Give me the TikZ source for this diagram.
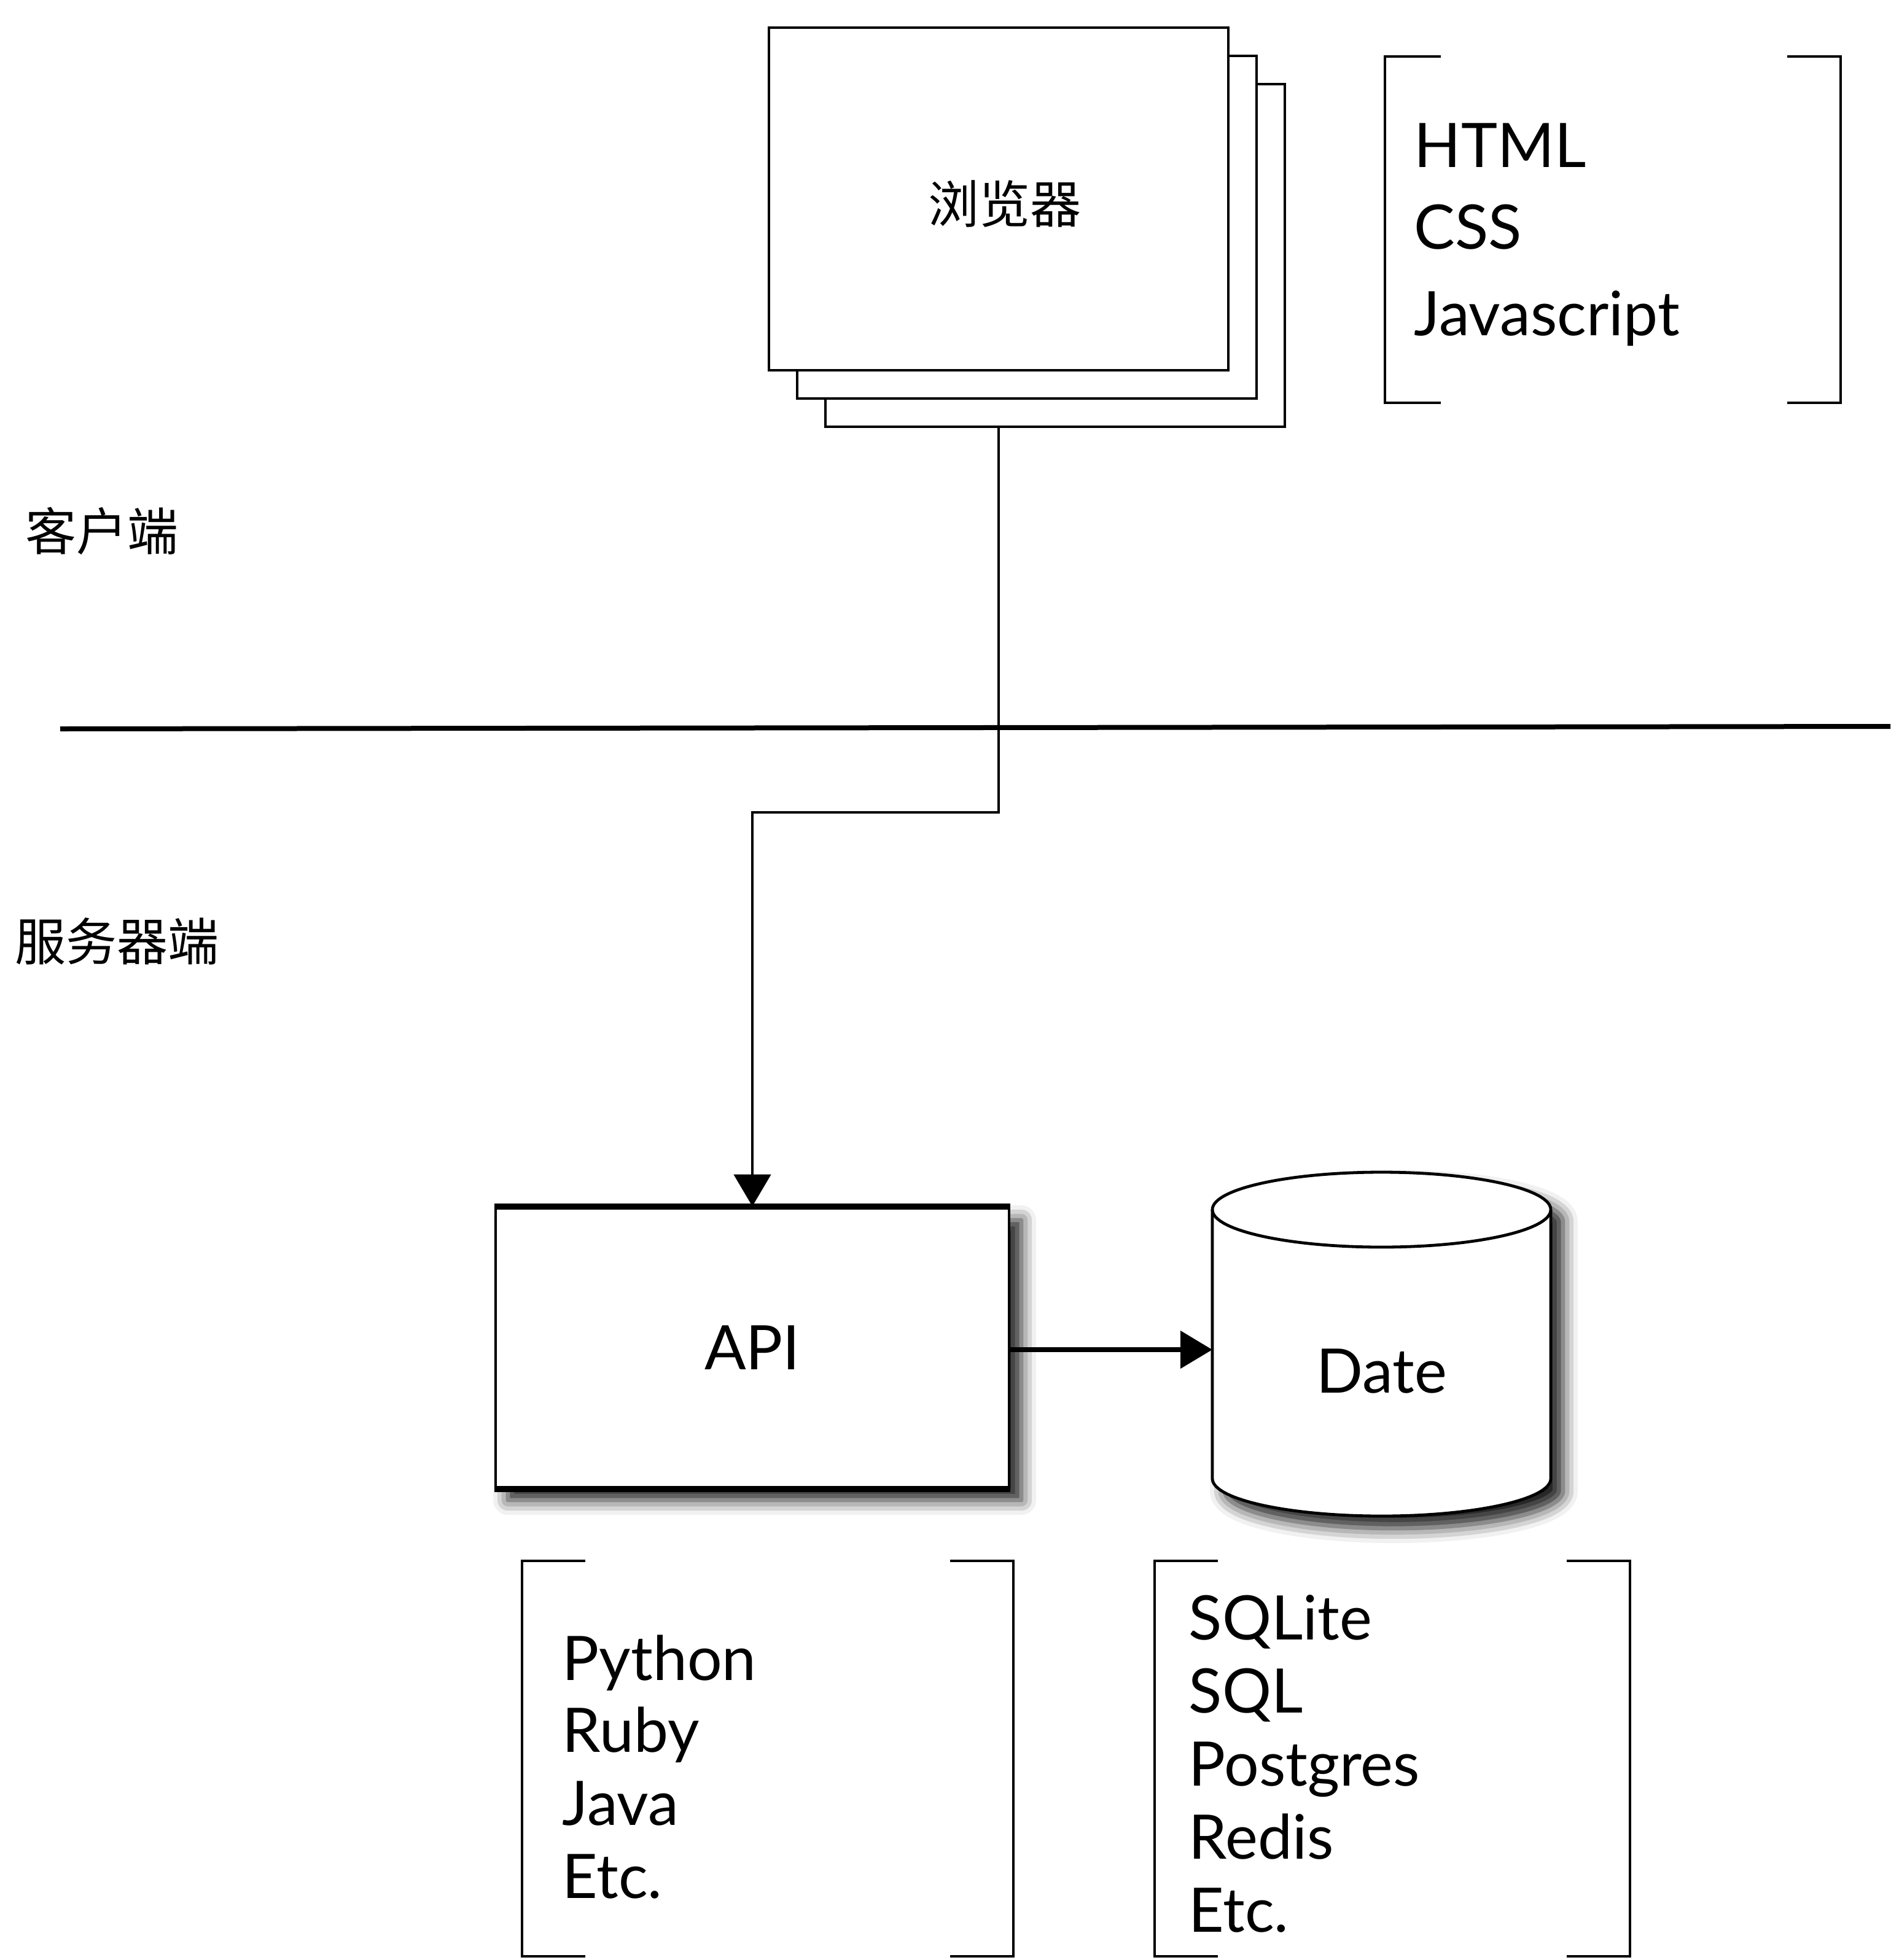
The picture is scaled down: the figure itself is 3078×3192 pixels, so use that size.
\documentclass[tikz,border=0pt]{standalone}
\usepackage{fontspec}
\setmainfont{Lato}
\newfontfamily\cjk{Noto Sans CJK SC}
\usetikzlibrary{arrows.meta,shadows.blur}
\begin{document}
\begin{tikzpicture}[x=0.25pt,y=-0.25pt,
  conn/.style={line width=1.2pt, -{Triangle[length=13pt,width=15pt]}},
  page/.style={draw, line width=1.2pt, fill=white, minimum width=187pt, minimum height=139.5pt, inner sep=0pt},
  lbl/.style={font=\fontsize{25pt}{30pt}\selectfont, anchor=base west, inner sep=0pt},
  cjklbl/.style={font=\cjk\fontsize{20.75pt}{25pt}\selectfont, inner sep=0pt},
  brk/.style={line width=1.2pt},
  dshadow/.style={blur shadow={shadow xshift=5pt, shadow yshift=-5pt, shadow blur radius=6pt, shadow opacity=90}}
]
\path[use as bounding box] (0,0) rectangle (3078,3192);

% browser pages
\node[page] (b3) at (1718,416) {};
\node[page] (b2) at (1672,370) {};
\node[page] (b1) at (1626,324) {};
\node[cjklbl] (btxt) at (1636,332) {浏览器};

% client-side bracket
\draw[brk] (2346,92) -| (2255,656) -- (2346,656);
\draw[brk] (2910,92) -| (2997,656) -- (2910,656);
\node[lbl] (html) at (2302,272) {HTML};
\node[lbl] (css) at (2302,405) {CSS};
\node[lbl] (js) at (2302,546) {Javascript};

% side labels and separator
\node[cjklbl, anchor=west] (client) at (41,865) {客户端};
\node[cjklbl, anchor=west] (server) at (24,1533) {服务器端};
\coordinate (sepL) at (98,1187);
\coordinate (sepR) at (3078,1183);
\draw[line width=2pt] (sepL) -- (sepR);

% API
\node[draw, line width=1.2pt, fill=white, minimum width=209pt, minimum height=114pt, dshadow,
      font=\fontsize{25pt}{30pt}\selectfont] (api) at (1225,2195) {API};
\draw[line width=2.5pt] (api.north west) -- (api.north east);
\draw[line width=2.5pt] (api.south west) -- (api.south east);

% connector browser -> API
\coordinate (jog) at (1400,1323);
\draw[conn] (b3.south -| b1.center) |- (jog) -| (api.north);

% connector API -> database
\coordinate (dbin) at (1974,2198);
\draw[line width=2pt, -{Triangle[length=13pt,width=15pt]}] (api.east |- dbin) -- (dbin);

% database cylinder
\path[dshadow, fill=white] (1974,1970) -- (1974,2408)
  arc[start angle=180, end angle=360, x radius=68.875pt, y radius=15.25pt]
  -- (2525,1970)
  arc[start angle=0, end angle=180, x radius=68.875pt, y radius=15.25pt] -- cycle;
\draw[line width=1.2pt] (1974,1970) -- (1974,2408)
  arc[start angle=180, end angle=360, x radius=68.875pt, y radius=15.25pt]
  -- (2525,1970);
\draw[line width=1.2pt] (2249.5,1970) ellipse [x radius=68.875pt, y radius=15.25pt];
\node[font=\fontsize{25pt}{30pt}\selectfont, inner sep=0pt] (date) at (2250,2233) {Date};

% server brackets
\draw[brk] (953,2542) -| (850,3186) -- (953,3186);
\draw[brk] (1547,2542) -| (1650,3186) -- (1547,3186);
\draw[brk] (1983,2542) -| (1880,3186) -- (1983,3186);
\draw[brk] (2551,2542) -| (2654,3186) -- (2551,3186);

\node[lbl] (py) at (915,2736) {Python};
\node[lbl] (rb) at (915,2853) {Ruby};
\node[lbl] (java) at (915,2972) {Java};
\node[lbl] (etc1) at (915,3091) {Etc.};

\node[lbl] (sqlite) at (1935,2670) {SQLite};
\node[lbl] (sql) at (1935,2789) {SQL};
\node[lbl] (pg) at (1935,2908) {Postgres};
\node[lbl] (redis) at (1935,3027) {Redis};
\node[lbl] (etc2) at (1935,3146) {Etc.};
\end{tikzpicture}
\end{document}
